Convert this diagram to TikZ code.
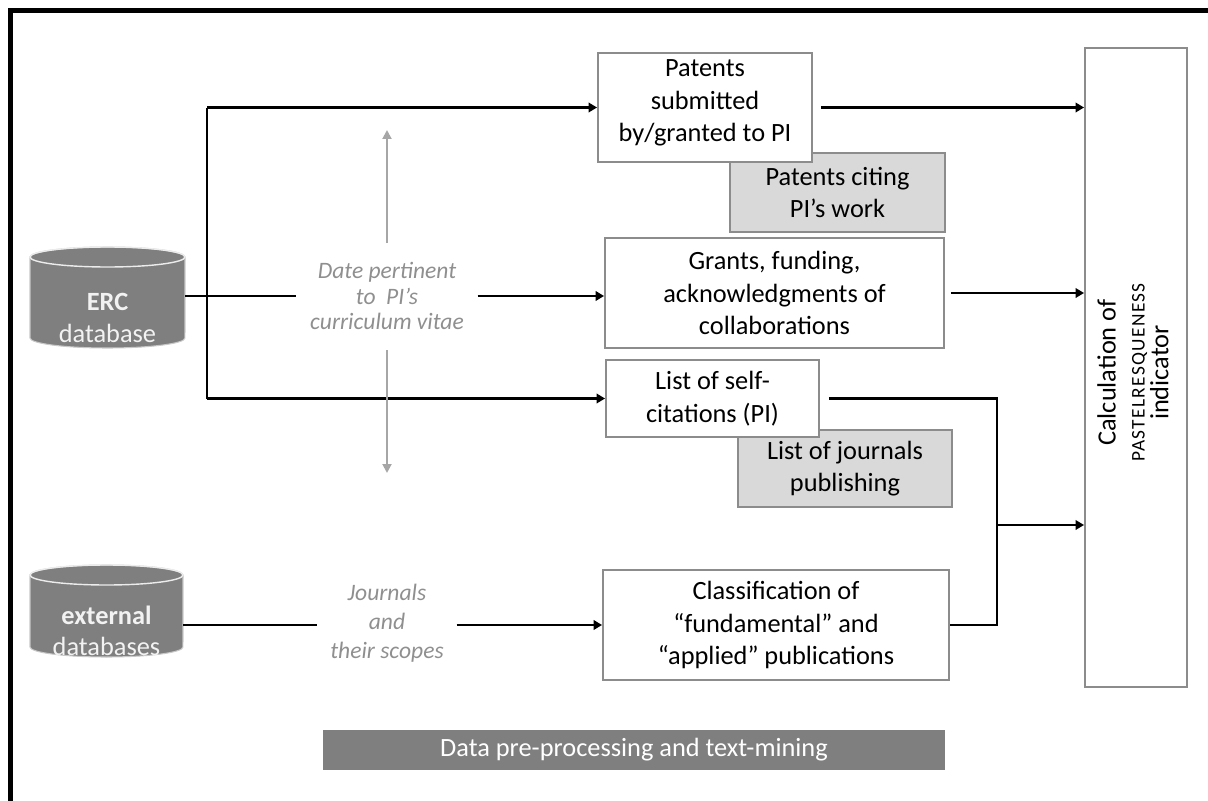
\documentclass[tikz,border=0pt]{standalone}
\usepackage{fontspec}
\setmainfont{Carlito}
\usetikzlibrary{arrows.meta,calc}
\definecolor{boxgray}{HTML}{8C8C8C}
\definecolor{fillgray}{HTML}{D9D9D9}
\definecolor{dbgray}{HTML}{7F7F7F}
\definecolor{txtgray}{HTML}{8F8F8F}
\definecolor{arrgray}{HTML}{A6A6A6}
\definecolor{cyledge}{HTML}{C8C8C8}
\begin{document}
\begin{tikzpicture}[x=0.02cm,y=-0.02cm,
  mainfs/.style={font=\fontsize{15}{18.5}\selectfont},
  wbox/.style={draw=boxgray, line width=1.1pt, fill=white, align=center, inner sep=0pt, mainfs},
  gbox/.style={wbox, fill=fillgray},
  conn/.style={line width=1.6pt, black},
  arr/.style={conn, -{Triangle[length=0.17cm,width=0.19cm]}},
  garr/.style={line width=1.1pt, arrgray, -{Triangle[length=0.18cm,width=0.18cm]}},
  itxt/.style={text=txtgray, align=center, font=\fontsize{13.4}{14.6}\itshape\selectfont, inner xsep=0.27cm, inner ysep=0.2cm},
  frame/.style={line width=2.8pt, black}
]
\useasboundingbox (0,0) rectangle (1208,801);

% outer frame (top and left edges)
\draw[frame] (8,10.5) -- (1208,10.5);
\draw[frame] (10.5,8) -- (10.5,801);

% database cylinders (anchor placeholders)
\node[minimum width=3.1cm, minimum height=2.02cm, inner sep=0pt] (erc) at (107.5,297.5) {};
\node[minimum width=3.06cm, minimum height=1.84cm, inner sep=0pt] (ext) at (106.5,611) {};

\filldraw[fill=dbgray, draw=cyledge, line width=0.6pt] (30,257) -- (30,338)
  arc[start angle=180,end angle=360,x radius=1.55cm,y radius=0.2cm] -- (185,257)
  arc[start angle=0,end angle=180,x radius=1.55cm,y radius=0.2cm] -- cycle;
\draw[white!85!gray, line width=0.8pt] (107.5,257) ellipse[x radius=1.55cm, y radius=0.2cm];
\node[text=white!95!black, align=center, font=\fontsize{15}{18.5}\selectfont] (erct) at (107.5,318) {\textbf{ERC}\\database};

\filldraw[fill=dbgray, draw=cyledge, line width=0.6pt] (30,575) -- (30,647)
  arc[start angle=180,end angle=360,x radius=1.53cm,y radius=0.2cm] -- (183,575)
  arc[start angle=0,end angle=180,x radius=1.53cm,y radius=0.2cm] -- cycle;
\draw[white!85!gray, line width=0.8pt] (106.5,575) ellipse[x radius=1.53cm, y radius=0.2cm];
\node[text=white!95!black, align=center, font=\fontsize{15}{17.5}\selectfont] (extt) at (106.5,631) {\textbf{external}\\databases};

% boxes (gray ones first so white ones overlap)
\node[gbox, minimum width=4.3cm, minimum height=1.58cm] (pcite) at (837.5,192.5) {Patents citing\\PI’s work};
\node[wbox, minimum width=4.28cm, minimum height=2.18cm] (pat) at (705,107.5) {\\[-14pt]Patents\\submitted\\by/granted to PI};
\node[wbox, minimum width=6.78cm, minimum height=2.2cm] (grants) at (774.5,293) {Grants, funding,\\acknowledgments of\\collaborations};
\node[gbox, minimum width=4.28cm, minimum height=1.54cm] (jpub) at (845,468.5) {List of journals\\publishing};
\node[wbox, minimum width=4.26cm, minimum height=1.54cm] (self) at (712.5,398.5) {List of self-\\citations (PI)};
\node[wbox, minimum width=6.92cm, minimum height=2.2cm] (class) at (776,625) {Classification of\\“fundamental” and\\“applied” publications};
\node[wbox, minimum width=2.04cm, minimum height=12.78cm] (calc) at (1136,367.5) {};
\node[rotate=90, align=center, mainfs] (calct) at ($(calc.center)+(-3,5)$) {Calculation of\\[-2pt]{\fontsize{11}{12}\selectfont\addfontfeature{LetterSpace=7}PASTELRESQUENESS}\\[-5pt]indicator};
\node[fill=dbgray, text=white, minimum width=12.44cm, minimum height=0.8cm, inner sep=0pt, font=\fontsize{15}{18}\selectfont] (banner) at (634,750) {Data pre-processing and text-mining};

% italic labels
\node[itxt] (dtxt) at (387,296) {Date pertinent\\to~ PI’s\\curriculum vitae};
\node[itxt, font=\fontsize{13.4}{16.6}\itshape\selectfont, inner xsep=0.25cm] (jtxt) at (387,623) {Journals\\and\\their scopes};

% coordinates
\coordinate (spine) at (207,0);
\coordinate (mrg) at (997,525);
\coordinate (gup) at (387,130);
\coordinate (gdn) at (387,473);

% connectors from ERC
\draw[conn] (erc.east |- dtxt.west) -- (dtxt.west);
\draw[arr] (dtxt.east) -- (grants.west |- dtxt.east);
\draw[conn] (spine |- pat.west) -- (spine |- self.west);
\draw[arr] (spine |- pat.west) -- (pat.west);
\draw[arr] (spine |- self.west) -- (self.west);

% gray arrows
\draw[garr] ($(dtxt.center)+(0,-53)$) -- (gup);
\draw[garr] ($(dtxt.center)+(0,54)$) -- (gdn);

% external
\draw[conn] (ext.east |- class.west) -- (jtxt.west |- class.west);
\draw[arr] (jtxt.east |- class.west) -- (class.west);

% to calculation
\draw[arr] ([xshift=0.16cm]pat.east) -- (calc.west |- pat.east);
\draw[arr] ([xshift=0.12cm]grants.east) -- (calc.west |- grants.east);
\draw[conn] ([xshift=0.18cm]self.east) -| (mrg |- class.east) -- (class.east);
\draw[arr] (mrg) -- (calc.west |- mrg);
\end{tikzpicture}
\end{document}
